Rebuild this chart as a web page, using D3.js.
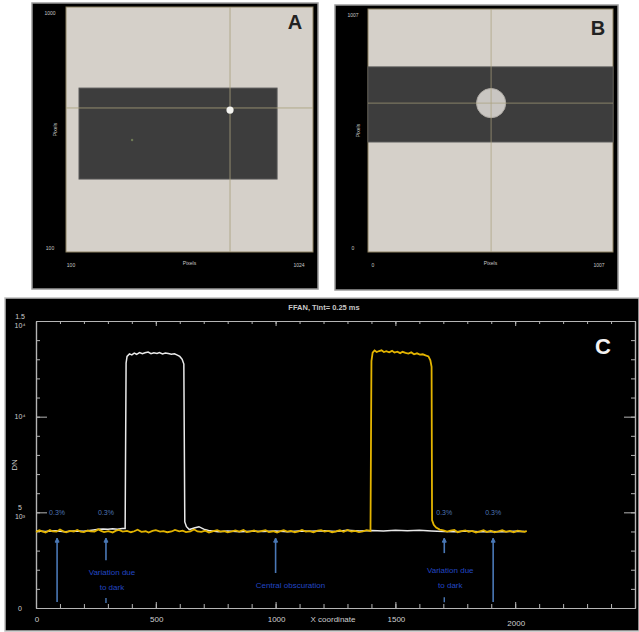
<!DOCTYPE html>
<html><head><meta charset="utf-8">
<script src="https://cdn.jsdelivr.net/npm/d3@7"></script>
<style>body{margin:0;background:#fff}svg{display:block}text{font-family:"Liberation Sans",Arial,sans-serif}</style>
</head><body><svg id="c" width="639" height="632"></svg>
<script>
// ---------- Panel A (image, pixel units) ----------
const aDomainX = [0, 1024], aDomainY = [0, 1024];
const aRect = {x0: 54, x1: 875, y0: 305, y1: 685};
const aCross = {x: 680, y: 602};
const aSpot = [680, 593];
const aSmallSpot = [274, 468];
const aTickLabels = {yTop: "1000", yBottom: "100", xLeft: "100", xMid: "Pixels", xRight: "1024", yMid: "Pixels"};

// ---------- Panel B ----------
const bDomainX = [0, 1007], bDomainY = [0, 1007];
const bBand = {y0: 456, y1: 767};
const bCross = {x: 506, y: 617};
const bDisk = {cx: 506, cy: 617, r: 60};
const bTickLabels = {yTop: "1007", yBottom: "0", xLeft: "0", xMid: "Pixels", xRight: "1007", yMid: "Pixels"};

// ---------- Panel C (profile) ----------
const cTitle = "FFAN, Tint= 0.25 ms";
const cXLabel = "X coordinate";
const cYLabel = "DN";
const xTicks = [0, 500, 1000, 1500, 2000];
const yMajor = [0, 5000, 10000, 15000];
const yTickText = [["0"], ["5", "10³"], ["10⁴"], ["1.5", "10⁴"]];

const whiteProfile = [[0,4020],[40,4000],[80,4040],[120,3990],[160,4030],[200,4010],[240,4080],[260,4120],[280,4130],[300,4110],[320,4140],[340,4120],[360,4150],[372,4150],[376,12800],[380,13150],[390,13280],[400,13230],[410,13320],[420,13260],[432,13350],[444,13290],[455,13340],[468,13380],[480,13290],[492,13340],[505,13300],[515,13350],[528,13280],[540,13330],[552,13300],[565,13260],[578,13290],[590,13220],[600,13150],[610,13000],[617,12750],[621,4500],[628,4250],[640,4100],[660,4180],[680,4250],[700,4120],[720,4050],[760,3990],[800,4030],[850,3980],[900,4010],[950,4000],[1000,4030],[1050,3990],[1100,4020],[1150,4010],[1200,4040],[1250,4000],[1300,4060],[1350,4020],[1400,4050],[1450,4020],[1500,4060],[1550,4040],[1600,4070],[1650,4030],[1700,4000],[1750,3990],[1800,4020],[1850,3980],[1900,4000],[1950,3990],[2000,4010],[2040,4000]];

const yellowProfile = [[0,3980],[14,4060],[26,4010],[40,3950],[58,4070],[70,4000],[86,3990],[100,4100],[112,4020],[126,3960],[140,4030],[158,4000],[172,4080],[186,3990],[200,3970],[216,4050],[228,4010],[244,4000],[260,4110],[272,4030],[284,3970],[302,4020],[320,3950],[334,4040],[346,4080],[362,3990],[380,4030],[396,3960],[410,4010],[424,4090],[440,3980],[458,4010],[470,3940],[486,4030],[500,4070],[518,3990],[532,4020],[548,3960],[566,4000],[580,4080],[598,4010],[612,4040],[626,3970],[644,4010],[660,4100],[674,4000],[690,3980],[706,4040],[722,3950],[740,4020],[756,4070],[770,3990],[786,4020],[800,3950],[818,4010],[832,4060],[848,3990],[866,4080],[880,3970],[896,4000],[910,4050],[926,3980],[944,4030],[958,4070],[972,3970],[990,4010],[1006,3940],[1020,4020],[1034,4070],[1048,3990],[1064,4030],[1080,3960],[1096,4010],[1110,4080],[1126,3990],[1142,4020],[1158,3960],[1176,4040],[1190,4070],[1204,3990],[1220,4030],[1236,3960],[1252,4000],[1268,4060],[1284,3980],[1300,4080],[1316,4000],[1332,4030],[1348,3970],[1364,4010],[1380,4070],[1396,4020],[1400,12900],[1405,13350],[1413,13460],[1422,13380],[1432,13430],[1442,13470],[1452,13380],[1462,13420],[1474,13360],[1486,13440],[1496,13350],[1508,13400],[1520,13320],[1530,13390],[1542,13330],[1554,13300],[1566,13360],[1578,13260],[1590,13310],[1602,13240],[1614,13260],[1626,13200],[1638,13150],[1646,12950],[1651,12600],[1653,4600],[1660,4350],[1670,4200],[1685,4100],[1700,4060],[1716,3990],[1730,4040],[1746,4080],[1760,3960],[1776,4020],[1792,4060],[1806,3980],[1820,4030],[1836,3950],[1852,4010],[1868,4070],[1882,3970],[1898,4040],[1914,3950],[1930,4000],[1946,4060],[1962,3980],[1978,4030],[1994,3960],[2010,4040],[2026,4000],[2040,3980],[2048,4030]];

const pctLabels = [[88,"0.3%"],[292,"0.3%"],[1704,"0.3%"],[1908,"0.3%"]];
const pctLevel = 5000;
const arrows = [[88,3650,320],[292,3650,2500],[1000,3650,1830],[1704,3650,2870],[1908,3650,320]];
const arrowStubs = [[292,520,260],[1704,560,300]];
const notes = [[317,1900,"Variation due"],[317,1110,"to dark"],[1062,1200,"Central obscuration"],[1729,2000,"Variation due"],[1729,1200,"to dark"]];

const svg = d3.select("#c");
svg.append("rect").attr("width",639).attr("height",632).attr("fill","#fff");

function imagePanel(box, inner, dx, dy, draw, labels, letter){
  svg.append("rect").attr("x",box[0]).attr("y",box[1]).attr("width",box[2]).attr("height",box[3])
    .attr("fill","#000").attr("stroke","#9a9a9a").attr("stroke-width",1.5);
  const x = d3.scaleLinear().domain(dx).range([inner[0], inner[0]+inner[2]]);
  const y = d3.scaleLinear().domain(dy).range([inner[1]+inner[3], inner[1]]);
  svg.append("rect").attr("x",inner[0]).attr("y",inner[1]).attr("width",inner[2]).attr("height",inner[3])
    .attr("fill","#d5d0c9").attr("stroke","#8c8060").attr("stroke-width",1);
  const g = svg.append("g");
  draw(g, x, y);
  const lab = (tx,ty,t,rot) => {
    const e = svg.append("text").attr("x",tx).attr("y",ty).attr("fill","#c8c8c8").attr("font-size",5)
      .attr("text-anchor","middle").text(t);
    if (rot) e.attr("transform",`rotate(-90,${tx},${ty})`);
  };
  lab(box[0]+18, inner[1]+8, labels.yTop);
  lab(box[0]+18, inner[1]+inner[3]-2, labels.yBottom);
  lab(inner[0]+5, inner[1]+inner[3]+15, labels.xLeft);
  lab(inner[0]+inner[2]/2, inner[1]+inner[3]+13, labels.xMid);
  lab(inner[0]+inner[2]-14, inner[1]+inner[3]+15, labels.xRight);
  lab(box[0]+25, inner[1]+inner[3]/2, labels.yMid, true);
  svg.append("text").attr("x",letter[0]).attr("y",letter[1]).attr("font-size",20).attr("font-weight","bold")
    .attr("fill","#222").attr("text-anchor","middle").text(letter[2]);
}

imagePanel([32,3,286,286],[66,7,247,245], aDomainX, aDomainY, (g,x,y)=>{
  g.append("rect").attr("x",x(aRect.x0)).attr("y",y(aRect.y1)).attr("width",x(aRect.x1)-x(aRect.x0))
   .attr("height",y(aRect.y0)-y(aRect.y1)).attr("fill","#3d3d3d").attr("stroke","#555");
  g.append("line").attr("x1",x(aCross.x)).attr("x2",x(aCross.x)).attr("y1",y(aDomainY[1])).attr("y2",y(aDomainY[0]))
   .attr("stroke","#a9a07c").attr("stroke-width",1).attr("opacity",0.8);
  g.append("line").attr("x1",x(aDomainX[0])).attr("x2",x(aDomainX[1])).attr("y1",y(aCross.y)).attr("y2",y(aCross.y))
   .attr("stroke","#a9a07c").attr("stroke-width",1).attr("opacity",0.8);
  g.append("circle").attr("cx",x(aSpot[0])).attr("cy",y(aSpot[1])).attr("r",3.6).attr("fill","#f4f4f0");
  g.append("circle").attr("cx",x(aSmallSpot[0])).attr("cy",y(aSmallSpot[1])).attr("r",1.2).attr("fill","#6e7a55");
}, aTickLabels, [295,29,"A"]);

imagePanel([335,5,283,285],[368,9,245,243], bDomainX, bDomainY, (g,x,y)=>{
  g.append("rect").attr("x",x(bDomainX[0])).attr("y",y(bBand.y1)).attr("width",x(bDomainX[1])-x(bDomainX[0]))
   .attr("height",y(bBand.y0)-y(bBand.y1)).attr("fill","#3d3d3d").attr("stroke","#555");
  g.append("circle").attr("cx",x(bDisk.cx)).attr("cy",y(bDisk.cy)).attr("r",x(bDisk.r)-x(0))
   .attr("fill","#c9c6c2").attr("stroke","#b0aca6");
  g.append("line").attr("x1",x(bCross.x)).attr("x2",x(bCross.x)).attr("y1",y(bDomainY[1])).attr("y2",y(bDomainY[0]))
   .attr("stroke","#a9a07c").attr("stroke-width",1).attr("opacity",0.7);
  g.append("line").attr("x1",x(bDomainX[0])).attr("x2",x(bDomainX[1])).attr("y1",y(bCross.y)).attr("y2",y(bCross.y))
   .attr("stroke","#a9a07c").attr("stroke-width",1).attr("opacity",0.7);
}, bTickLabels, [598,35,"B"]);

// ---------- Panel C ----------
svg.append("rect").attr("x",5).attr("y",298).attr("width",634).attr("height",333)
  .attr("fill","#000").attr("stroke","#bdbdbd").attr("stroke-width",1.5);
const x = d3.scaleLinear().domain([0,2500]).range([36,635]);
const y = d3.scaleLinear().domain([0,15000]).range([608,321]);
const axC = "#b5b5b5";
const minorX = d3.range(0,2501,100), minorY = d3.range(0,15001,1000);
function styleAxis(g){ g.selectAll("path,line").attr("stroke",axC); g.selectAll("text").remove(); g.select(".domain").attr("stroke-width",1.2); }
svg.append("g").attr("transform","translate(0,608)").call(d3.axisBottom(x).tickValues(minorX).tickSize(-4).tickSizeOuter(0)).call(styleAxis);
svg.append("g").attr("transform","translate(0,608)").call(d3.axisBottom(x).tickValues(xTicks).tickSize(-6).tickSizeOuter(0)).call(styleAxis);
svg.append("g").attr("transform","translate(0,321)").call(d3.axisTop(x).tickValues(minorX).tickSize(-3).tickSizeOuter(0)).call(styleAxis);
svg.append("g").attr("transform","translate(0,321)").call(d3.axisTop(x).tickValues(xTicks).tickSize(-5).tickSizeOuter(0)).call(styleAxis);
svg.append("g").attr("transform","translate(36,0)").call(d3.axisLeft(y).tickValues(minorY).tickSize(-4).tickSizeOuter(0)).call(styleAxis);
svg.append("g").attr("transform","translate(36,0)").call(d3.axisLeft(y).tickValues(yMajor).tickSize(-11).tickSizeOuter(0)).call(styleAxis);
svg.append("g").attr("transform","translate(635,0)").call(d3.axisRight(y).tickValues(minorY).tickSize(-4).tickSizeOuter(0)).call(styleAxis);
svg.append("g").attr("transform","translate(635,0)").call(d3.axisRight(y).tickValues(yMajor).tickSize(-11).tickSizeOuter(0)).call(styleAxis);

// tick labels
xTicks.forEach((v,i)=>{
  svg.append("text").attr("x",x(v)+1).attr("y",i===4?626:622).attr("text-anchor","middle")
    .attr("font-size",8).attr("fill","#cfcfcf").text(v);
});
yMajor.forEach((v,i)=>{
  const lines = yTickText[i];
  const t = svg.append("text").attr("x",20).attr("font-size",7).attr("fill","#cfcfcf").attr("text-anchor","middle");
  const y0 = lines.length===2 ? y(v) - 2 : y(v) + 2.5;
  lines.forEach((s,k)=> t.append("tspan").attr("x",20).attr("y", y0 + k*9).text(s));
});
svg.append("text").attr("x",333).attr("y",622).attr("text-anchor","middle").attr("font-size",8).attr("fill","#cfcfcf").text(cXLabel);
svg.append("text").attr("x",17).attr("y",465).attr("text-anchor","middle").attr("font-size",8).attr("fill","#cfcfcf")
  .attr("transform","rotate(-90,17,465)").text(cYLabel);
svg.append("text").attr("x",324).attr("y",310).attr("text-anchor","middle").attr("font-size",7.5).attr("font-weight","bold")
  .attr("fill","#c8c8c8").text(cTitle);
svg.append("text").attr("x",603).attr("y",354).attr("text-anchor","middle").attr("font-size",22).attr("font-weight","bold")
  .attr("fill","#f2f2f2").text("C");

const line = d3.line().x(d=>x(d[0])).y(d=>y(d[1]));
svg.append("path").attr("d",line(whiteProfile)).attr("fill","none").attr("stroke","#e9e9e9").attr("stroke-width",1.5);
svg.append("path").attr("d",line(yellowProfile)).attr("fill","none").attr("stroke","#e3b400").attr("stroke-width",1.8);

// annotations
const blueLine = "#4a78b6", blueText = "#4c74b4", blueNote = "#2247c4";
arrows.forEach(([xv,top,bot])=>{
  svg.append("line").attr("x1",x(xv)).attr("x2",x(xv)).attr("y1",y(top)).attr("y2",y(bot))
    .attr("stroke",blueLine).attr("stroke-width",1.6);
  svg.append("path").attr("d",`M${x(xv)-2},${y(top)+4} L${x(xv)},${y(top)} L${x(xv)+2},${y(top)+4} Z`)
    .attr("fill",blueLine).attr("stroke",blueLine);
});
arrowStubs.forEach(([xv,top,bot])=>{
  svg.append("line").attr("x1",x(xv)).attr("x2",x(xv)).attr("y1",y(top)).attr("y2",y(bot))
    .attr("stroke",blueLine).attr("stroke-width",1.4);
});
pctLabels.forEach(([xv,t])=>{
  svg.append("text").attr("x",x(xv)).attr("y",y(pctLevel)+3).attr("text-anchor","middle")
    .attr("font-size",7).attr("fill",blueText).text(t);
});
notes.forEach(([xv,yv,t])=>{
  svg.append("text").attr("x",x(xv)).attr("y",y(yv)+3).attr("text-anchor","middle")
    .attr("font-size",8).attr("fill",blueNote).text(t);
});
</script></body></html>
